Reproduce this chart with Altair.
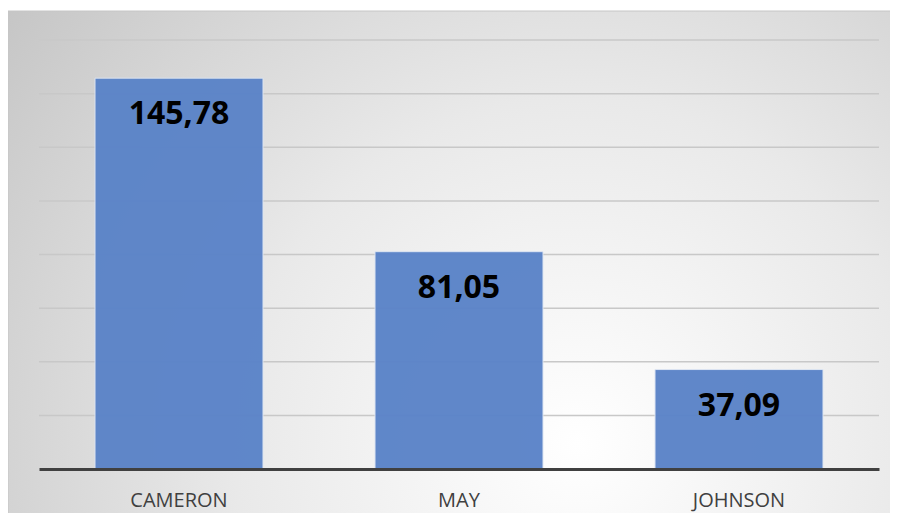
import altair as alt
import pandas as pd

names = ["CAMERON", "MAY", "JOHNSON"]
values = [145.78, 81.05, 37.09]
labels = [f"{v:.2f}".replace(".", ",") for v in values]
grid_values = [20, 40, 60, 80, 100, 120, 140, 160]

df = pd.DataFrame({"name": names, "value": values, "label": labels})
gdf = pd.DataFrame({"g": grid_values})
one = pd.DataFrame({"a": [0]})

W, H = 840, 429

grad = alt.RadialGradient(
    gradient="radial",
    stops=[
        alt.GradientStop(color="#ffffff", offset=0),
        alt.GradientStop(color="#e9e9e9", offset=0.42),
        alt.GradientStop(color="#bcbcbc", offset=1),
    ],
    x1=0.64, y1=0.7, x2=0.64, y2=0.7, r1=0, r2=0.92,
)

bg = alt.Chart(one).mark_rect(fill=grad, stroke="#c6c6c6", strokeWidth=1).encode(
    x=alt.value(-31), x2=alt.value(860), y=alt.value(-29), y2=alt.value(480)
)

yscale = alt.Scale(domain=[0, 160], nice=False, zero=True)

grid = alt.Chart(gdf).mark_rule(color="#c8c8c8", strokeWidth=1.5).encode(
    y=alt.Y("g:Q", scale=yscale, axis=None),
    x=alt.value(0), x2=alt.value(W),
)

xenc = alt.X(
    "name:N", sort=names, title=None,
    scale=alt.Scale(paddingInner=0.4, paddingOuter=0.2),
    axis=alt.Axis(labelAngle=0, labelFont="Open Sans", labelFontSize=20,
                  labelColor="#404040", labelPadding=21, ticks=False,
                  domainColor="#404040", domainWidth=3, grid=False, zindex=1),
)

bars = alt.Chart(df).mark_bar(color="#5a83c8", opacity=0.96, stroke="#dde5f2", strokeWidth=1).encode(
    x=xenc,
    y=alt.Y("value:Q", scale=yscale, axis=None),
)

text = alt.Chart(df).mark_text(font="Open Sans", fontWeight="bold", fontSize=32,
                               color="#000000", baseline="alphabetic", dy=46).encode(
    x=alt.X("name:N", sort=names),
    y=alt.Y("value:Q", scale=yscale),
    text="label:N",
)

chart = alt.layer(bg, grid, bars, text).properties(
    width=W, height=H,
    autosize="none",
    padding={"left": 31, "top": 32, "right": 11, "bottom": 44},
    background="#ffffff",
).configure_view(stroke=None)

chart.save("out.html", embed_options={"renderer": "svg", "actions": False})
